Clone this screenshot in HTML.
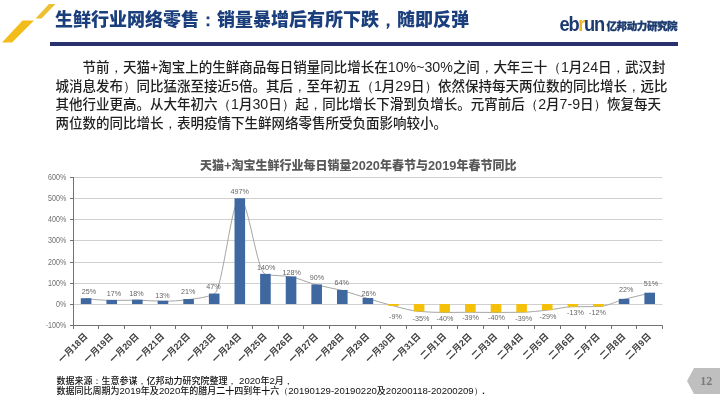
<!DOCTYPE html>
<html lang="zh-CN"><head><meta charset="utf-8"><title>生鲜行业网络零售</title>
<style>
*{margin:0;padding:0;box-sizing:border-box}
html,body{width:720px;height:405px;overflow:hidden;background:#fff}
body{position:relative;font-family:"Liberation Sans","Noto Sans CJK SC",sans-serif}
.abs{position:absolute}
.p{font-family:"Liberation Sans","WenQuanYi Zen Hei",sans-serif}
.title{left:55px;top:8px;font-size:18px;line-height:24px;font-weight:900;color:#1B3F7D;white-space:nowrap}
.rule{left:50px;top:42px;width:628px;height:3.6px;background:#29316F}
.body{left:55.5px;top:59px;width:615px;font-size:13.5px;line-height:18.5px;color:#1f1f1f;font-weight:500}
.body p{text-indent:27px}
.a{font-size:14.2px;line-height:0}
.fa{font-size:9.6px;line-height:0}
.ca{font-size:12.8px;line-height:0}
.chart{position:absolute;left:0;top:0}
.yl{font-family:"Liberation Sans",sans-serif;font-size:8.2px;fill:#707070}
.dl{font-family:"Liberation Sans",sans-serif;font-size:8px;fill:#666666}
.xl{font-family:"Liberation Sans","Noto Sans CJK SC",sans-serif;font-size:9px;font-weight:bold;fill:#404040}
.ctitle{left:200px;top:156.5px;font-size:12px;line-height:18px;font-weight:900;color:#595959;white-space:nowrap}
.foot{left:56.5px;top:377.3px;font-size:9px;line-height:9.3px;color:#111;font-weight:500;white-space:nowrap}
.logo-cn{left:606.5px;top:19px;font-size:10.5px;font-weight:900;color:#1B3A6E;-webkit-text-stroke:0.35px #1B3A6E;line-height:14px;white-space:nowrap;letter-spacing:-0.4px}
.pg{left:687px;top:368px;width:33px;height:26px}
</style></head><body>
<svg class="abs" style="left:0;top:0" width="60" height="48" viewBox="0 0 60 48">
<polygon points="2,42.5 12,42.5 34,20.5 22.5,20.5" fill="#F2BC1A"/>
<polygon points="35.5,18.5 41.5,18.5 55.5,4 49,4" fill="#ECC032"/>
</svg>
<div class="abs title">生鲜行业网络零售<span class="p">：</span>销量暴增后有所下跌<span class="p">，</span>随即反弹</div>
<div class="abs rule"></div>
<svg class="abs" style="left:555px;top:8px" width="55" height="28" viewBox="555 8 55 28"><text transform="translate(559.6 30.9) scale(0.87 1)" font-family="Liberation Sans,sans-serif" font-weight="bold" font-size="21" letter-spacing="-1.5" fill="#1B3A6E">eb<tspan fill="#E8B830">r</tspan>un</text></svg>
<div class="abs logo-cn">亿邦动力研究院</div>
<div class="abs body"><p>节前<span class="p">，</span>天猫<span class="a">+</span>淘宝上的生鲜商品每日销量同比增长在<span class="a">10%~30%</span>之间<span class="p">，</span>大年三十<span class="p">（</span><span class="a">1</span>月<span class="a">24</span>日<span class="p">，</span>武汉封城消息发布<span class="p">）</span>同比猛涨至接近<span class="a">5</span>倍。其后<span class="p">，</span>至年初五<span class="p">（</span><span class="a">1</span>月<span class="a">29</span>日<span class="p">）</span>依然保持每天两位数的同比增长<span class="p">，</span>远比其他行业更高。从大年初六<span class="p">（</span><span class="a">1</span>月<span class="a">30</span>日<span class="p">）</span>起<span class="p">，</span>同比增长下滑到负增长。元宵前后<span class="p">（</span><span class="a">2</span>月<span class="a">7-9</span>日<span class="p">）</span>恢复每天两位数的同比增长<span class="p">，</span>表明疫情下生鲜网络零售所受负面影响较小。</p></div>
<div class="abs ctitle">天猫<span class="ca">+</span>淘宝生鲜行业每日销量<span class="ca">2020</span>年春节与<span class="ca">2019</span>年春节同比</div>
<svg class="chart" width="720" height="405" viewBox="0 0 720 405">
<line x1="73.30" y1="177.5" x2="662.50" y2="177.5" stroke="#D0D0D0" stroke-width="1"/>
<line x1="70" y1="177.5" x2="73.30" y2="177.5" stroke="#727272" stroke-width="1"/>
<line x1="73.30" y1="198.5" x2="662.50" y2="198.5" stroke="#D0D0D0" stroke-width="1"/>
<line x1="70" y1="198.5" x2="73.30" y2="198.5" stroke="#727272" stroke-width="1"/>
<line x1="73.30" y1="219.5" x2="662.50" y2="219.5" stroke="#D0D0D0" stroke-width="1"/>
<line x1="70" y1="219.5" x2="73.30" y2="219.5" stroke="#727272" stroke-width="1"/>
<line x1="73.30" y1="240.5" x2="662.50" y2="240.5" stroke="#D0D0D0" stroke-width="1"/>
<line x1="70" y1="240.5" x2="73.30" y2="240.5" stroke="#727272" stroke-width="1"/>
<line x1="73.30" y1="262.5" x2="662.50" y2="262.5" stroke="#D0D0D0" stroke-width="1"/>
<line x1="70" y1="262.5" x2="73.30" y2="262.5" stroke="#727272" stroke-width="1"/>
<line x1="73.30" y1="283.5" x2="662.50" y2="283.5" stroke="#D0D0D0" stroke-width="1"/>
<line x1="70" y1="283.5" x2="73.30" y2="283.5" stroke="#727272" stroke-width="1"/>
<line x1="73.30" y1="304.5" x2="662.50" y2="304.5" stroke="#D0D0D0" stroke-width="1"/>
<line x1="70" y1="304.5" x2="73.30" y2="304.5" stroke="#727272" stroke-width="1"/>
<text transform="translate(66.3 180.40) scale(0.87 1)" text-anchor="end" class="yl">600%</text>
<text transform="translate(66.3 201.40) scale(0.87 1)" text-anchor="end" class="yl">500%</text>
<text transform="translate(66.3 222.40) scale(0.87 1)" text-anchor="end" class="yl">400%</text>
<text transform="translate(66.3 243.40) scale(0.87 1)" text-anchor="end" class="yl">300%</text>
<text transform="translate(66.3 265.40) scale(0.87 1)" text-anchor="end" class="yl">200%</text>
<text transform="translate(66.3 286.40) scale(0.87 1)" text-anchor="end" class="yl">100%</text>
<text transform="translate(66.3 307.40) scale(0.87 1)" text-anchor="end" class="yl">0%</text>
<text transform="translate(66.3 328.40) scale(0.87 1)" text-anchor="end" class="yl">-100%</text>
<line x1="70" y1="325.5" x2="662.50" y2="325.5" stroke="#727272" stroke-width="1"/>
<line x1="73.5" y1="177" x2="73.5" y2="326.0" stroke="#727272" stroke-width="1"/>
<line x1="73.5" y1="325.5" x2="73.5" y2="329.00" stroke="#727272" stroke-width="1"/>
<line x1="98.5" y1="325.5" x2="98.5" y2="329.00" stroke="#727272" stroke-width="1"/>
<line x1="124.5" y1="325.5" x2="124.5" y2="329.00" stroke="#727272" stroke-width="1"/>
<line x1="150.5" y1="325.5" x2="150.5" y2="329.00" stroke="#727272" stroke-width="1"/>
<line x1="175.5" y1="325.5" x2="175.5" y2="329.00" stroke="#727272" stroke-width="1"/>
<line x1="201.5" y1="325.5" x2="201.5" y2="329.00" stroke="#727272" stroke-width="1"/>
<line x1="227.5" y1="325.5" x2="227.5" y2="329.00" stroke="#727272" stroke-width="1"/>
<line x1="252.5" y1="325.5" x2="252.5" y2="329.00" stroke="#727272" stroke-width="1"/>
<line x1="278.5" y1="325.5" x2="278.5" y2="329.00" stroke="#727272" stroke-width="1"/>
<line x1="303.5" y1="325.5" x2="303.5" y2="329.00" stroke="#727272" stroke-width="1"/>
<line x1="329.5" y1="325.5" x2="329.5" y2="329.00" stroke="#727272" stroke-width="1"/>
<line x1="355.5" y1="325.5" x2="355.5" y2="329.00" stroke="#727272" stroke-width="1"/>
<line x1="380.5" y1="325.5" x2="380.5" y2="329.00" stroke="#727272" stroke-width="1"/>
<line x1="406.5" y1="325.5" x2="406.5" y2="329.00" stroke="#727272" stroke-width="1"/>
<line x1="431.5" y1="325.5" x2="431.5" y2="329.00" stroke="#727272" stroke-width="1"/>
<line x1="457.5" y1="325.5" x2="457.5" y2="329.00" stroke="#727272" stroke-width="1"/>
<line x1="483.5" y1="325.5" x2="483.5" y2="329.00" stroke="#727272" stroke-width="1"/>
<line x1="508.5" y1="325.5" x2="508.5" y2="329.00" stroke="#727272" stroke-width="1"/>
<line x1="534.5" y1="325.5" x2="534.5" y2="329.00" stroke="#727272" stroke-width="1"/>
<line x1="560.5" y1="325.5" x2="560.5" y2="329.00" stroke="#727272" stroke-width="1"/>
<line x1="585.5" y1="325.5" x2="585.5" y2="329.00" stroke="#727272" stroke-width="1"/>
<line x1="611.5" y1="325.5" x2="611.5" y2="329.00" stroke="#727272" stroke-width="1"/>
<line x1="636.5" y1="325.5" x2="636.5" y2="329.00" stroke="#727272" stroke-width="1"/>
<line x1="662.5" y1="325.5" x2="662.5" y2="329.00" stroke="#727272" stroke-width="1"/>
<path d="M86.11,298.71 C94.65,299.56 103.19,300.40 111.73,300.40 C120.27,300.40 128.80,300.19 137.34,300.19 C145.88,300.19 154.42,301.25 162.96,301.25 C171.50,301.25 180.04,300.68 188.58,299.56 C197.12,298.43 205.66,297.72 214.20,294.05 C222.73,290.38 231.27,198.80 239.81,198.80 C248.35,198.80 256.89,272.67 265.43,274.37 C273.97,276.06 282.51,275.21 291.05,276.91 C299.59,278.60 308.13,282.69 316.67,284.95 C325.20,287.21 333.74,288.20 342.28,290.45 C350.82,292.71 359.36,295.92 367.90,298.50 C376.44,301.07 384.98,303.75 393.52,305.90 C402.06,308.06 410.60,310.70 419.13,311.41 C427.67,312.11 436.21,312.47 444.75,312.47 C453.29,312.47 461.83,312.25 470.37,312.25 C478.91,312.25 487.45,312.47 495.99,312.47 C504.53,312.47 513.07,312.40 521.60,312.25 C530.14,312.11 538.68,311.06 547.22,310.14 C555.76,309.22 564.30,306.89 572.84,306.75 C581.38,306.61 589.92,306.68 598.46,306.54 C607.00,306.40 615.53,301.57 624.07,299.34 C632.61,297.12 641.15,295.16 649.69,293.20" fill="none" stroke="#A6A6A6" stroke-width="1"/>
<rect x="80.81" y="298.21" width="10.6" height="5.79" fill="#3F67A0"/>
<rect x="106.43" y="299.90" width="10.6" height="4.10" fill="#3F67A0"/>
<rect x="132.04" y="299.69" width="10.6" height="4.31" fill="#3F67A0"/>
<rect x="157.66" y="300.75" width="10.6" height="3.25" fill="#3F67A0"/>
<rect x="183.28" y="299.06" width="10.6" height="4.94" fill="#3F67A0"/>
<rect x="208.90" y="293.55" width="10.6" height="10.45" fill="#3F67A0"/>
<rect x="234.51" y="198.30" width="10.6" height="105.70" fill="#3F67A0"/>
<rect x="260.13" y="273.87" width="10.6" height="30.13" fill="#3F67A0"/>
<rect x="285.75" y="276.41" width="10.6" height="27.59" fill="#3F67A0"/>
<rect x="311.37" y="284.45" width="10.6" height="19.55" fill="#3F67A0"/>
<rect x="336.98" y="289.95" width="10.6" height="14.05" fill="#3F67A0"/>
<rect x="362.60" y="298.00" width="10.6" height="6.00" fill="#3F67A0"/>
<rect x="388.22" y="304.00" width="10.6" height="1.90" fill="#F4C00A"/>
<rect x="413.83" y="304.00" width="10.6" height="7.41" fill="#F4C00A"/>
<rect x="439.45" y="304.00" width="10.6" height="8.47" fill="#F4C00A"/>
<rect x="465.07" y="304.00" width="10.6" height="8.25" fill="#F4C00A"/>
<rect x="490.69" y="304.00" width="10.6" height="8.47" fill="#F4C00A"/>
<rect x="516.30" y="304.00" width="10.6" height="8.25" fill="#F4C00A"/>
<rect x="541.92" y="304.00" width="10.6" height="6.14" fill="#F4C00A"/>
<rect x="567.54" y="304.00" width="10.6" height="2.75" fill="#F4C00A"/>
<rect x="593.16" y="304.00" width="10.6" height="2.54" fill="#F4C00A"/>
<rect x="618.77" y="298.84" width="10.6" height="5.16" fill="#3F67A0"/>
<rect x="644.39" y="292.70" width="10.6" height="11.30" fill="#3F67A0"/>
<text transform="translate(88.85 293.70) scale(0.9 1)" text-anchor="middle" class="dl">25%</text>
<text transform="translate(114.00 295.50) scale(0.9 1)" text-anchor="middle" class="dl">17%</text>
<text transform="translate(136.50 295.50) scale(0.9 1)" text-anchor="middle" class="dl">18%</text>
<text transform="translate(162.50 297.60) scale(0.9 1)" text-anchor="middle" class="dl">13%</text>
<text transform="translate(188.30 293.70) scale(0.9 1)" text-anchor="middle" class="dl">21%</text>
<text transform="translate(213.50 289.00) scale(0.9 1)" text-anchor="middle" class="dl">47%</text>
<text transform="translate(239.70 193.50) scale(0.9 1)" text-anchor="middle" class="dl">497%</text>
<text transform="translate(266.20 269.90) scale(0.9 1)" text-anchor="middle" class="dl">140%</text>
<text transform="translate(291.60 274.80) scale(0.9 1)" text-anchor="middle" class="dl">128%</text>
<text transform="translate(317.00 279.60) scale(0.9 1)" text-anchor="middle" class="dl">90%</text>
<text transform="translate(341.70 285.10) scale(0.9 1)" text-anchor="middle" class="dl">64%</text>
<text transform="translate(368.80 295.90) scale(0.9 1)" text-anchor="middle" class="dl">26%</text>
<text transform="translate(395.40 318.80) scale(0.9 1)" text-anchor="middle" class="dl">-9%</text>
<text transform="translate(420.90 320.60) scale(0.9 1)" text-anchor="middle" class="dl">-35%</text>
<text transform="translate(445.00 320.60) scale(0.9 1)" text-anchor="middle" class="dl">-40%</text>
<text transform="translate(470.60 319.80) scale(0.9 1)" text-anchor="middle" class="dl">-39%</text>
<text transform="translate(496.50 319.80) scale(0.9 1)" text-anchor="middle" class="dl">-40%</text>
<text transform="translate(523.70 320.70) scale(0.9 1)" text-anchor="middle" class="dl">-39%</text>
<text transform="translate(548.00 319.00) scale(0.9 1)" text-anchor="middle" class="dl">-29%</text>
<text transform="translate(575.50 315.00) scale(0.9 1)" text-anchor="middle" class="dl">-13%</text>
<text transform="translate(597.40 315.00) scale(0.9 1)" text-anchor="middle" class="dl">-12%</text>
<text transform="translate(626.30 292.20) scale(0.9 1)" text-anchor="middle" class="dl">22%</text>
<text transform="translate(651.00 286.10) scale(0.9 1)" text-anchor="middle" class="dl">51%</text>
<text x="88.11" y="337.00" text-anchor="end" class="xl" transform="rotate(-45 88.11 337.00)">一月18日</text>
<text x="113.73" y="337.00" text-anchor="end" class="xl" transform="rotate(-45 113.73 337.00)">一月19日</text>
<text x="139.34" y="337.00" text-anchor="end" class="xl" transform="rotate(-45 139.34 337.00)">一月20日</text>
<text x="164.96" y="337.00" text-anchor="end" class="xl" transform="rotate(-45 164.96 337.00)">一月21日</text>
<text x="190.58" y="337.00" text-anchor="end" class="xl" transform="rotate(-45 190.58 337.00)">一月22日</text>
<text x="216.20" y="337.00" text-anchor="end" class="xl" transform="rotate(-45 216.20 337.00)">一月23日</text>
<text x="241.81" y="337.00" text-anchor="end" class="xl" transform="rotate(-45 241.81 337.00)">一月24日</text>
<text x="267.43" y="337.00" text-anchor="end" class="xl" transform="rotate(-45 267.43 337.00)">一月25日</text>
<text x="293.05" y="337.00" text-anchor="end" class="xl" transform="rotate(-45 293.05 337.00)">一月26日</text>
<text x="318.67" y="337.00" text-anchor="end" class="xl" transform="rotate(-45 318.67 337.00)">一月27日</text>
<text x="344.28" y="337.00" text-anchor="end" class="xl" transform="rotate(-45 344.28 337.00)">一月28日</text>
<text x="369.90" y="337.00" text-anchor="end" class="xl" transform="rotate(-45 369.90 337.00)">一月29日</text>
<text x="395.52" y="337.00" text-anchor="end" class="xl" transform="rotate(-45 395.52 337.00)">一月30日</text>
<text x="421.13" y="337.00" text-anchor="end" class="xl" transform="rotate(-45 421.13 337.00)">一月31日</text>
<text x="446.75" y="337.00" text-anchor="end" class="xl" transform="rotate(-45 446.75 337.00)">二月1日</text>
<text x="472.37" y="337.00" text-anchor="end" class="xl" transform="rotate(-45 472.37 337.00)">二月2日</text>
<text x="497.99" y="337.00" text-anchor="end" class="xl" transform="rotate(-45 497.99 337.00)">二月3日</text>
<text x="523.60" y="337.00" text-anchor="end" class="xl" transform="rotate(-45 523.60 337.00)">二月4日</text>
<text x="549.22" y="337.00" text-anchor="end" class="xl" transform="rotate(-45 549.22 337.00)">二月5日</text>
<text x="574.84" y="337.00" text-anchor="end" class="xl" transform="rotate(-45 574.84 337.00)">二月6日</text>
<text x="600.46" y="337.00" text-anchor="end" class="xl" transform="rotate(-45 600.46 337.00)">二月7日</text>
<text x="626.07" y="337.00" text-anchor="end" class="xl" transform="rotate(-45 626.07 337.00)">二月8日</text>
<text x="651.69" y="337.00" text-anchor="end" class="xl" transform="rotate(-45 651.69 337.00)">二月9日</text>
</svg>
<div class="abs foot">数据来源<span class="p">：</span>生意参谋<span class="p">，</span>亿邦动力研究院整理<span class="p">，</span> <span class="fa">2020</span>年<span class="fa">2</span>月<span class="p">，</span><br>数据同比周期为<span class="fa">2019</span>年及<span class="fa">2020</span>年的腊月二十四到年十六<span class="p">（</span><span class="fa">20190129-20190220</span>及<span class="fa">20200118-20200209</span><span class="p">）</span><span style="font-weight:bold;margin-left:-0.4px">.</span></div>
<svg class="abs pg" viewBox="0 0 33 26"><polygon points="0,13 7,0 33,0 33,26 7,26" fill="#BFBFBF"/><text x="19.2" y="17" text-anchor="middle" font-family="Liberation Serif,serif" font-weight="bold" font-size="12" fill="#7A7A7A">12</text></svg>
</body></html>
